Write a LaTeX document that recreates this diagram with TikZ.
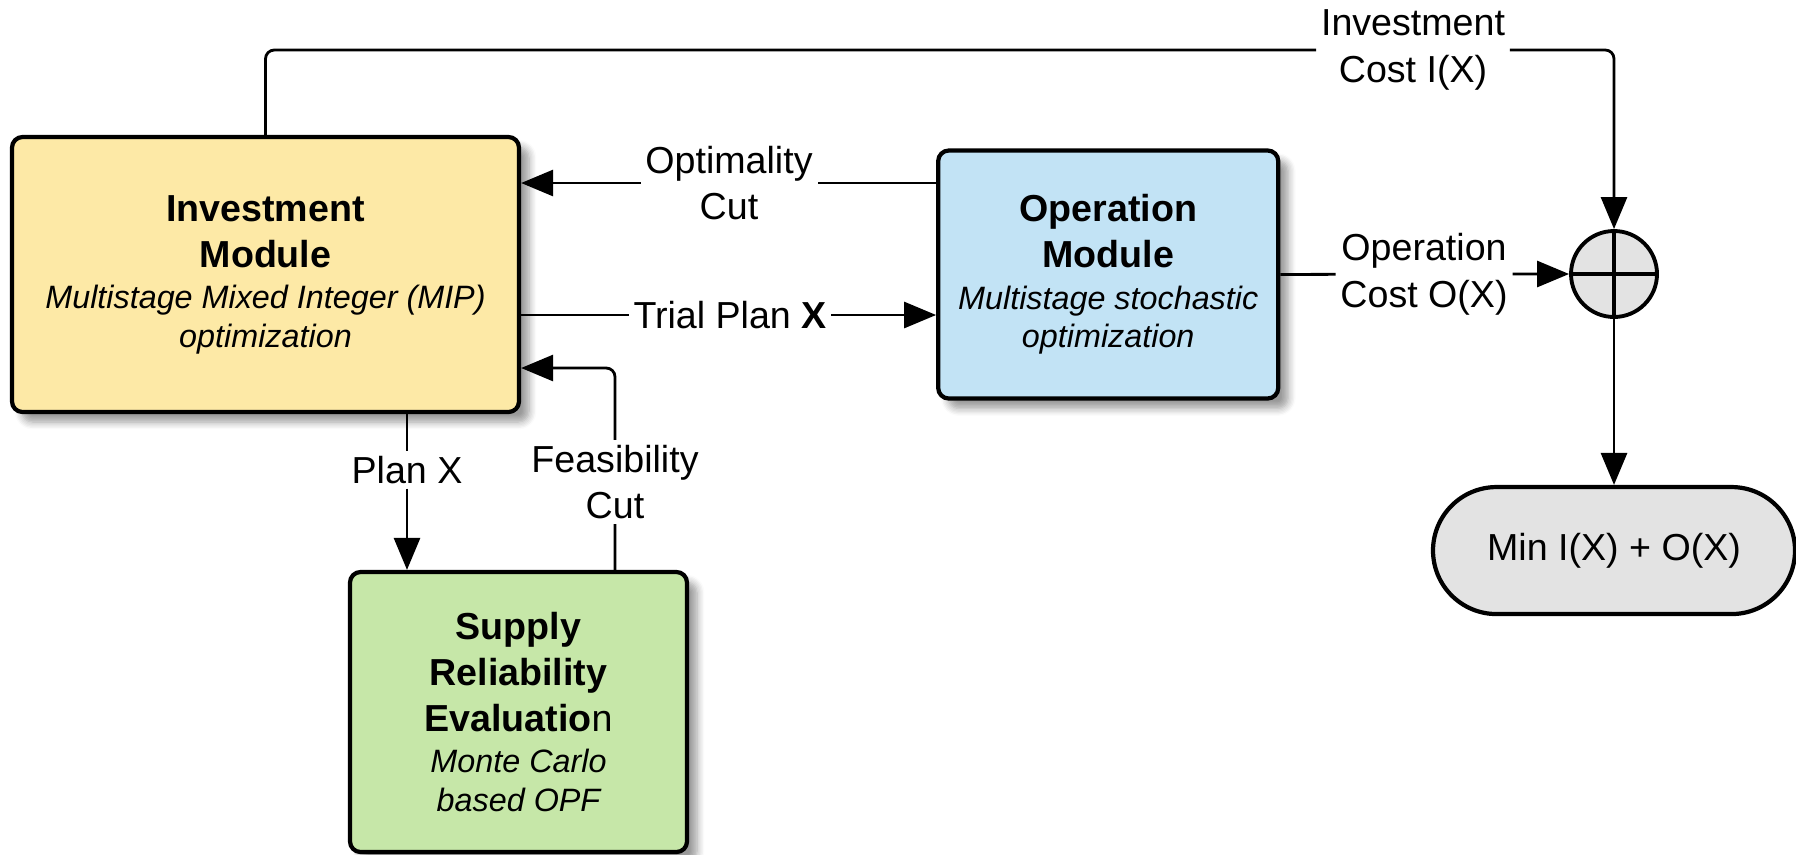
\documentclass[tikz,border=0pt]{standalone}
\usepackage{fontspec}
\setmainfont{Liberation Sans}
\usetikzlibrary{positioning,arrows.meta,shadows.blur}

\definecolor{invyellow}{HTML}{FDE9A6}
\definecolor{opblue}{HTML}{C2E3F5}
\definecolor{supgreen}{HTML}{C6E7A8}
\definecolor{sumgray}{HTML}{E3E3E3}

\newcommand{\modtitle}[1]{\textbf{#1}}
\newcommand{\modsub}[1]{{\fontsize{9.2}{11}\selectfont\itshape #1}}

\tikzset{
  module/.style={rectangle, draw=black, line width=1.2pt, rounded corners=3pt,
    align=center, inner sep=2pt, font=\fontsize{10.7}{13.1}\selectfont,
    blur shadow={shadow xshift=1mm, shadow yshift=-1mm, shadow blur steps=6}},
  lbl/.style={align=center, inner sep=1pt, font=\fontsize{10.7}{13.3}\selectfont},
}

\begin{document}
\begin{tikzpicture}[>={Triangle[length=3.2mm,width=2.6mm]}, line width=0.8pt]
    \useasboundingbox (0,0) rectangle (17.96,-8.54);

    \node[module, fill=invyellow, minimum width=5.07cm, minimum height=2.75cm] (inv) at (2.655,-2.745)
      {\modtitle{Investment}\\\modtitle{Module}\\[-1.3pt]\modsub{Multistage Mixed Integer (MIP)}\\[-2.1pt]\modsub{optimization}};
    \node[module, fill=opblue, minimum width=3.4cm, minimum height=2.48cm, right=4.15cm of inv] (op)
      {\modtitle{Operation}\\\modtitle{Module}\\[-1.3pt]\modsub{Multistage stochastic}\\[-2.1pt]\modsub{optimization}};
    \node[module, fill=supgreen, minimum width=3.37cm, minimum height=2.8cm] (sup) at (5.185,-7.12)
      {\modtitle{Supply}\\\modtitle{Reliability}\\\modtitle{Evaluatio}n\\[-1.3pt]\modsub{Monte Carlo}\\[-2.1pt]\modsub{based OPF}};
    \node[circle, draw=black, line width=1.1pt, fill=sumgray, minimum size=0.86cm,
      path picture={\draw (path picture bounding box.north) -- (path picture bounding box.south)
        (path picture bounding box.west) -- (path picture bounding box.east);}] (plus) at (16.14,-2.74) {};
    \node[rectangle, draw=black, line width=1.2pt, fill=sumgray, rounded corners=0.635cm,
      minimum width=3.62cm, minimum height=1.27cm, below=1.66cm of plus,
      font=\fontsize{10.7}{13.3}\selectfont] (min) {Min I(X) + O(X)};

    \node[lbl] (icost) at (14.13,-0.50) {Investment\\Cost I(X)};
    \node[lbl] (ocost) at (14.24,-2.74) {Operation\\Cost O(X)};
    \node[lbl] (optcut) at (7.29,-1.83) {Optimality\\Cut};
    \node[lbl] (trial) at (7.30,-3.15) {Trial Plan \textbf{X}};
    \node[lbl] (feas) at (6.15,-4.82) {Feasibility\\Cut};
    \node[lbl] (planx) at (4.07,-4.70) {Plan X};
    \coordinate (feasturn) at (6.15,-3.68);

    \draw[->, rounded corners=2.5pt] (inv.north) |- (icost) -| (plus.north);
    \draw[->] (op.east) -- (ocost) -- (plus.west);
    \draw[->] (plus.south) -- (min.north);

    \draw[->] (op.west |- optcut) -- (optcut) -- (inv.east |- optcut);
    \draw[->] (inv.east |- trial) -- (trial) -- (op.west |- trial);
    \draw[->, rounded corners=2.5pt] (sup.north -| feas) -- (feas) -- (feasturn) -- (inv.east |- feasturn);
    \draw[->] (inv.south -| planx) -- (planx) -- (sup.north -| planx);
\end{tikzpicture}
\end{document}
